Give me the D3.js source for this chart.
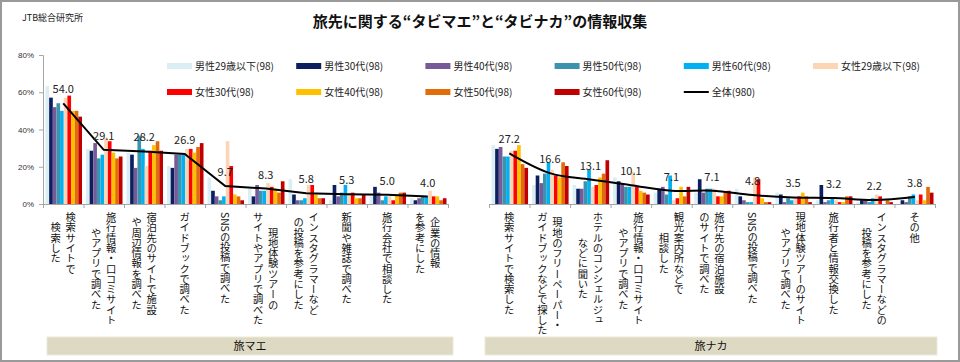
<!DOCTYPE html>
<html><head><meta charset="utf-8">
<script src="https://cdn.jsdelivr.net/npm/d3@7"></script>
<style>
body{margin:0;background:#fff}
svg{display:block;font-family:"Noto Sans CJK JP","Noto Sans",sans-serif}
</style></head><body>
<svg id="chart" width="960" height="362"></svg>
<script>
// 旅先に関する“タビマエ”と“タビナカ”の情報収集
const series = ["男性29歳以下(98)", "男性30代(98)", "男性40代(98)", "男性50代(98)", "男性60代(98)",
  "女性29歳以下(98)", "女性30代(98)", "女性40代(98)", "女性50代(98)", "女性60代(98)"];
const seriesColors = ["#dbeef4", "#0c1f5f", "#765b98", "#3c93ad", "#00b0f0",
  "#fcd5b5", "#ff0000", "#ffc000", "#e36c0a", "#c00000"];
const totalName = "全体(980)";
const yTicks = [0, 20, 40, 60, 80];

// タビマエ
const beforeLabels = [
  ["検索サイトで", "検索した"],
  ["旅行情報・口コミサイト", "やアプリで調べた"],
  ["宿泊先のサイトで施設", "や周辺情報を調べた"],
  ["ガイドブックで調べた"],
  ["SNSの投稿で調べた"],
  ["現地体験ツアーの", "サイトやアプリで調べた"],
  ["インスタグラマーなど", "の投稿を参考にした"],
  ["新聞や雑誌で調べた"],
  ["旅行会社で相談した"],
  ["企業の情報", "を参考にした"]
];
const beforeValues = [
  [63.3, 57.1, 52.0, 54.1, 50.0, 57.1, 58.2, 50.0, 50.0, 46.9],
  [29.6, 28.6, 32.7, 24.5, 26.5, 35.7, 33.7, 27.6, 24.5, 25.5],
  [27.6, 26.5, 19.4, 36.7, 29.6, 20.4, 28.6, 31.6, 33.7, 28.6],
  [20.4, 19.4, 26.5, 26.5, 26.5, 29.6, 29.6, 27.6, 30.6, 32.7],
  [14.3, 7.1, 4.1, 2.0, 4.1, 33.7, 20.4, 5.1, 4.1, 2.0],
  [8.2, 4.1, 10.2, 7.1, 7.1, 11.2, 9.2, 8.2, 6.1, 12.2],
  [13.3, 5.1, 2.0, 2.0, 3.1, 10.2, 10.2, 5.1, 3.1, 3.1],
  [2.0, 10.2, 4.1, 6.1, 10.2, 6.1, 6.1, 3.1, 3.1, 5.1],
  [4.1, 9.2, 6.1, 2.0, 4.1, 4.1, 2.0, 5.1, 6.1, 6.1],
  [3.1, 2.0, 3.1, 4.1, 4.1, 7.1, 4.1, 4.1, 2.0, 3.1]
];
const beforeTotal = [54.0, 29.1, 28.2, 26.9, 9.7, 8.3, 5.8, 5.3, 5.0, 4.0];

// タビナカ
const duringLabels = [
  ["検索サイトで検索した"],
  ["現地のフリーペーパー・", "ガイドブックなどで探した"],
  ["ホテルのコンシェルジュ", "などに聞いた"],
  ["旅行情報・口コミサイト", "やアプリで調べた"],
  ["観光案内所などで", "相談した"],
  ["旅行先の宿泊施設", "のサイトで調べた"],
  ["SNSの投稿で調べた"],
  ["現地体験ツアーのサイト", "やアプリで調べた"],
  ["旅行者と情報交換した"],
  ["インスタグラマーなどの", "投稿を参考にした"],
  ["その他"]
];
const duringValues = [
  [31.6, 29.6, 30.6, 25.5, 25.5, 28.6, 28.6, 31.6, 21.4, 19.4],
  [10.2, 15.3, 11.2, 16.3, 22.4, 18.4, 15.3, 14.3, 22.4, 20.4],
  [10.2, 8.2, 8.2, 12.2, 18.4, 9.2, 10.2, 14.3, 16.3, 23.5],
  [14.3, 12.2, 11.2, 9.2, 9.2, 17.3, 9.2, 7.1, 6.1, 5.1],
  [6.1, 8.2, 9.2, 5.1, 15.3, 2.0, 3.1, 9.2, 4.1, 9.2],
  [6.1, 13.3, 6.1, 8.2, 8.2, 8.2, 4.1, 4.1, 6.1, 7.1],
  [8.2, 4.1, 2.0, 1.0, 1.0, 14.3, 13.3, 3.1, 1.0, 1.0],
  [6.1, 5.1, 1.0, 3.1, 2.0, 3.1, 4.1, 6.1, 4.1, 1.0],
  [2.0, 10.2, 1.0, 2.0, 3.1, 2.0, 1.0, 1.0, 4.1, 4.1],
  [1.0, 2.0, 2.0, 1.0, 3.1, 5.1, 4.1, 0.0, 2.0, 1.0],
  [0.0, 2.0, 1.0, 4.1, 5.1, 2.0, 5.1, 2.0, 9.2, 6.1]
];
const duringTotal = [27.2, 16.6, 13.1, 10.1, 7.1, 7.1, 4.8, 3.5, 3.2, 2.2, 3.8];

const groupNames = ["旅マエ", "旅ナカ"];

const width = 960, height = 362;
const baseY = 204, topY = 55;
const axisColor = "#a6a6a6";

const svg = d3.select("#chart");

svg.append("rect").attr("x", 1).attr("y", 1).attr("width", width - 2).attr("height", height - 2)
  .attr("fill", "#fff").attr("stroke", "#9a9a9a").attr("stroke-width", 2);

svg.append("text").attr("x", 22).attr("y", 21).attr("font-size", 9).attr("fill", "#222")
  .text("JTB総合研究所");
svg.append("text").attr("x", width / 2).attr("y", 27).attr("text-anchor", "middle")
  .attr("font-size", 15).attr("font-weight", "bold").attr("fill", "#111")
  .text("旅先に関する“タビマエ”と“タビナカ”の情報収集");

const y = d3.scaleLinear().domain([0, 80]).range([baseY, topY]);

const yAxis = svg.append("g").attr("transform", "translate(43,0)")
  .call(d3.axisLeft(y).tickValues(yTicks).tickFormat(d => d + "%").tickSize(4).tickPadding(5));
yAxis.selectAll("path,line").attr("stroke", axisColor);
yAxis.selectAll("text").attr("font-size", 8).attr("fill", "#333").attr("font-family", "Liberation Sans, Arial, sans-serif");

function drawPanel(labels, values, totals, x0, x1, curve) {
  const n = labels.length;
  const cats = labels.map(l => l.join(""));
  const xc = d3.scaleBand().domain(cats).range([x0, x1]);
  const xs = d3.scaleBand().domain(series).range([2.5, xc.bandwidth() - 1.5]);
  const edge = d3.scaleLinear().domain([0, n]).range([x0, x1]);

  const ax = svg.append("g").attr("transform", `translate(0,${baseY})`)
    .call(d3.axisBottom(edge).tickValues(d3.range(n + 1)).tickFormat("").tickSize(4).tickSizeOuter(0));
  ax.selectAll("path,line").attr("stroke", axisColor);

  const g = svg.append("g");
  cats.forEach((c, i) => {
    g.selectAll(null).data(values[i]).join("rect")
      .attr("x", (d, j) => xc(c) + xs(series[j]))
      .attr("y", d => y(d))
      .attr("width", xs.bandwidth())
      .attr("height", d => y(0) - y(d))
      .attr("fill", (d, j) => seriesColors[j]);
  });

  const line = d3.line().x((d, i) => xc(cats[i]) + xc.bandwidth() / 2).y(d => y(d)).curve(curve);
  svg.append("path").datum(totals).attr("d", line)
    .attr("fill", "none").attr("stroke", "#000").attr("stroke-width", 2);

  svg.append("g").selectAll("text").data(totals).join("text")
    .attr("x", (d, i) => xc(cats[i]) + xc.bandwidth() / 2)
    .attr("y", d => y(d) - 10)
    .attr("text-anchor", "middle").attr("font-size", 11).attr("fill", "#222")
    .text(d => d3.format(".1f")(d));

  // vertical category labels (first line on the right)
  labels.forEach((lines, i) => {
    const cx = xc(cats[i]) + xc.bandwidth() / 2;
    const lg = svg.append("g");
    const texts = lines.map((ln, k) => lg.append("text")
      .attr("x", cx + ((lines.length - 1) / 2 - k) * 15)
      .attr("text-anchor", "middle")
      .attr("font-size", 10.3).attr("fill", "#111")
      .style("writing-mode", "vertical-rl")
      .text(ln));
    const maxLen = d3.max(texts, t => t.node().getComputedTextLength());
    texts.forEach(t => t.attr("y", 212 + maxLen / 2));
  });
  return xc;
}

drawPanel(beforeLabels, beforeValues, beforeTotal, 43, 448, d3.curveLinear);
drawPanel(duringLabels, duringValues, duringTotal, 489, 935, d3.curveCatmullRom);

// group boxes
const boxes = [[47, 453], [485, 937]];
boxes.forEach((b, i) => {
  svg.append("rect").attr("x", b[0]).attr("y", 337).attr("width", b[1] - b[0]).attr("height", 18)
    .attr("fill", "#ddd9c3").attr("stroke", "#ece9dc").attr("stroke-width", 1);
  svg.append("text").attr("x", (b[0] + b[1]) / 2).attr("y", 350).attr("text-anchor", "middle")
    .attr("font-size", 11).attr("fill", "#111").text(groupNames[i]);
});

// legend
const legend = svg.append("g");
const legendItems = series.map((s, i) => ({name: s, color: seriesColors[i], type: "rect"}))
  .concat([{name: totalName, color: "#000", type: "line"}]);
legendItems.forEach((d, i) => {
  const col = i < 6 ? i : i - 6, row = i < 6 ? 0 : 1;
  const lx = 167 + col * 129.2, ly = 66 + row * 26;
  if (d.type === "rect") {
    legend.append("rect").attr("x", lx).attr("y", ly - 3).attr("width", 25).attr("height", 6).attr("fill", d.color);
  } else {
    legend.append("line").attr("x1", lx).attr("x2", lx + 25).attr("y1", ly).attr("y2", ly)
      .attr("stroke", d.color).attr("stroke-width", 2);
  }
  legend.append("text").attr("x", lx + 28).attr("y", ly).attr("dy", "0.35em")
    .attr("font-size", 10).attr("fill", "#222").text(d.name);
});
</script></body></html>
